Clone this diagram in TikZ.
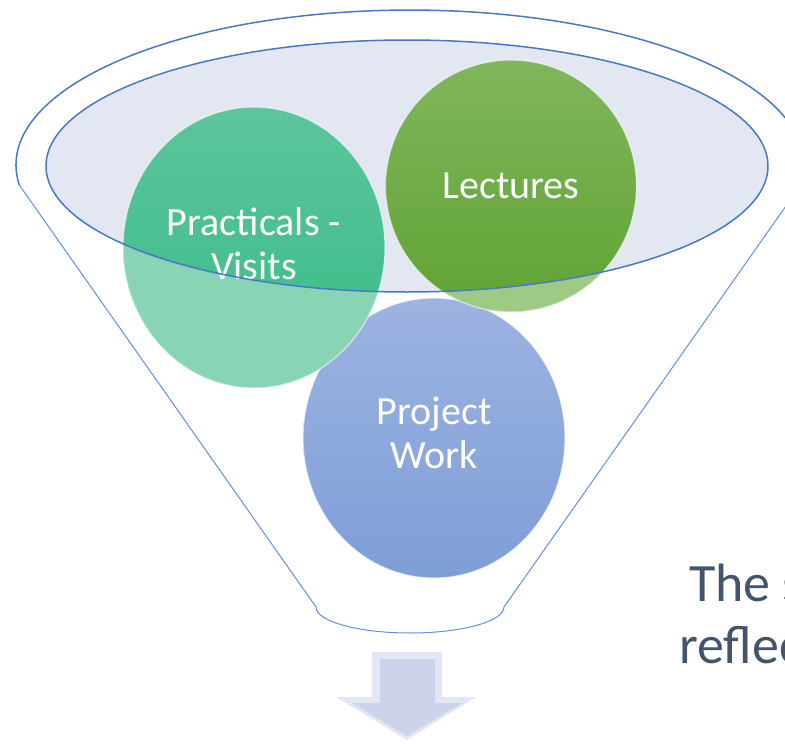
\documentclass[tikz,border=0pt]{standalone}
\usepackage{fontspec}
\setmainfont{Carlito}
\usetikzlibrary{shapes.geometric}
\definecolor{rim}{HTML}{4A78C8}
\definecolor{side}{HTML}{6490DC}
\definecolor{bowl}{HTML}{E3E7F2}
\definecolor{tealtop}{HTML}{5CC59D}
\definecolor{tealbot}{HTML}{38BB86}
\definecolor{tealpale}{HTML}{88D4B4}
\definecolor{greentop}{HTML}{80B65C}
\definecolor{greenbot}{HTML}{60A334}
\definecolor{greenpale}{HTML}{9FCA86}
\definecolor{bluetop}{HTML}{9DB3E1}
\definecolor{bluebot}{HTML}{7E9ED7}
\definecolor{arrowdark}{HTML}{CCD3EB}
\definecolor{arrowlight}{HTML}{E3E7F5}
\definecolor{slate}{HTML}{44546A}

\begin{document}
\begin{tikzpicture}[x=1pt, y=1pt,
  bubble/.style={ellipse, inner sep=0pt, text=white, align=center,
    font=\fontsize{40}{44}\selectfont, draw=white, draw opacity=0.6, line width=1.2pt},
  pale/.style={path picture={\fill[#1, even odd rule]
    (path picture bounding box.south west) rectangle (path picture bounding box.north east)
    (bowlc) ellipse [x radius=361, y radius=126];}},
  note/.style={anchor=base west, inner sep=0pt, text=slate, font=\fontsize{54}{62}\selectfont}]
\useasboundingbox (0,0) rectangle (785,-744);

% funnel
\coordinate (bowlc) at (407,-166);
\coordinate (lefttop) at (19.3,-185);
\coordinate (righttop) at (800.7,-185);
\coordinate (leftbot) at (316,-607);
\coordinate (rightbot) at (504,-607);
\draw[side, line width=1pt] (lefttop) -- (leftbot)
  arc[start angle=180, end angle=360, x radius=94, y radius=26] -- (righttop);
\draw[rim, line width=1.5pt] (lefttop) arc[start angle=187.4, end angle=-7.4, x radius=394, y radius=155];
\fill[bowl] (bowlc) ellipse [x radius=361, y radius=126];

% bubbles
\node[bubble, text depth=10pt, top color=bluetop, bottom color=bluebot, minimum width=262pt, minimum height=280pt]
  (project) at (434,-438) {Project\\Work};
\node[bubble, text depth=8pt, top color=tealtop, bottom color=tealbot, pale=tealpale, minimum width=262pt, minimum height=281pt]
  (practicals) at (254,-247.5) {Practicals -\\Visits};
\node[bubble, top color=greentop, bottom color=greenbot, pale=greenpale, minimum width=251pt, minimum height=252pt]
  (lectures) at (511,-186) {Lectures};
\draw[rim, line width=1.5pt] (bowlc) ellipse [x radius=361, y radius=126];

% arrow
\fill[arrowlight] (372,-652) -- (442,-652) -- (442,-697) -- (476,-697) -- (407,-740)
  -- (336,-697) -- (372,-697) -- cycle;
\fill[arrowdark] (380,-659) -- (435,-659) -- (435,-703) -- (462,-703) -- (407,-736)
  -- (352,-703) -- (380,-703) -- cycle;

\node[note] (note1) at (689,-601) {The s};
\node[note] (note2) at (679,-663) {reflec};
\end{tikzpicture}
\end{document}
